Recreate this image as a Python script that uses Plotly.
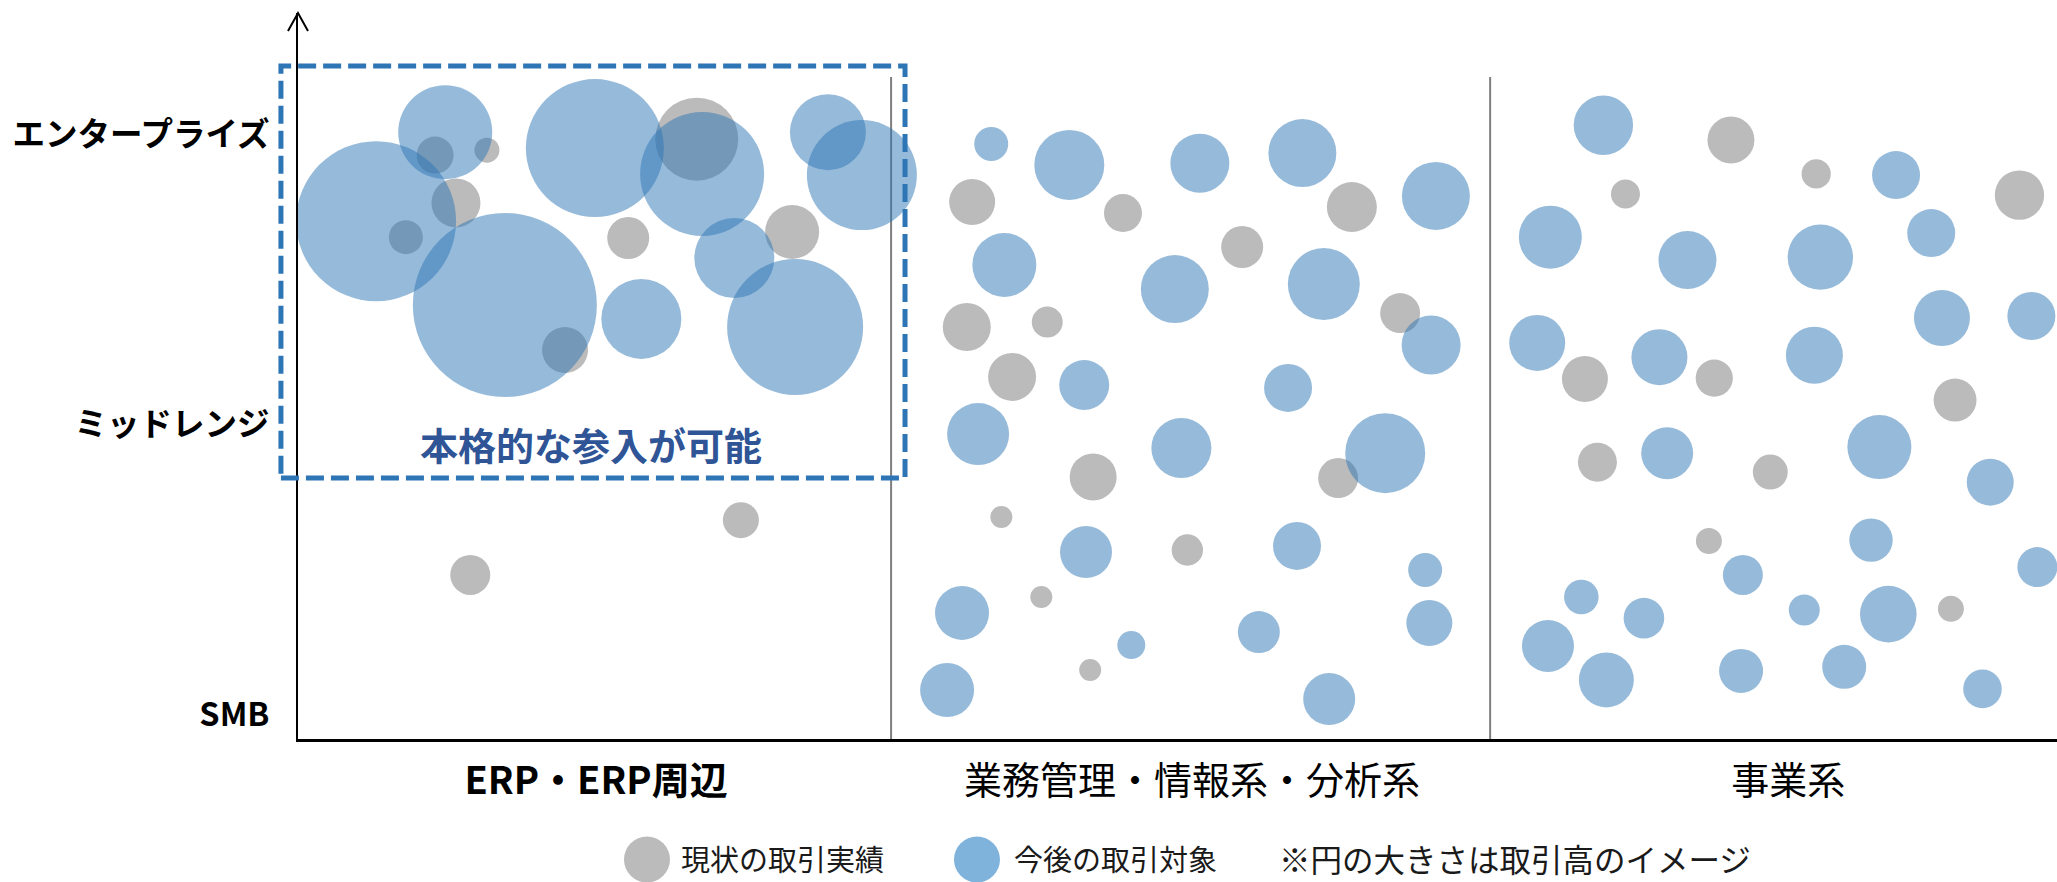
import plotly.graph_objects as go

# Horizontal position: 0-100 = ERP, 100-200 = 業務管理・情報系・分析系, 200-300 = 事業系
# Vertical position: 0 = SMB, 100 = ミッドレンジ, 200 = エンタープライズ
# Volume: relative transaction volume (bubble area)

categories = ["ERP・ERP周辺", "業務管理・情報系・分析系", "事業系"]
category_centers = [50, 150, 250]
category_bounds = [99.5, 200]
tier_labels = ["SMB", "ミッドレンジ", "エンタープライズ"]
tier_values = [0, 100, 200]

# 現状の取引実績 (current accounts)
current_x = [
    23.0, 31.7, 26.5, 18.1, 66.9, 55.4, 82.9, 44.8, 74.3, 28.9,
    113.1, 138.4, 176.8, 158.4, 112.2, 125.7, 184.9, 119.8, 133.4, 174.5,
    118.0, 149.2, 124.7, 132.9,
    240.4, 222.7, 254.7, 288.8, 215.9, 237.6, 278.0, 218.0, 247.0, 236.7, 277.3,
]
current_y = [
    193.1, 194.8, 176.6, 164.8, 198.6, 164.5, 166.6, 125.9, 67.2, 48.3,
    176.9, 173.1, 175.2, 161.4, 133.8, 135.5, 138.6, 116.6, 82.1, 81.7,
    68.3, 56.9, 40.7, 15.5,
    198.3, 179.7, 186.6, 179.3, 115.9, 116.2, 108.6, 87.2, 83.8, 60.0, 36.6,
]
current_volume = [
    3.42, 1.56, 6.00, 2.89, 17.22, 4.41, 7.29, 5.29, 3.24, 4.00,
    5.29, 3.61, 6.25, 4.41, 5.76, 2.40, 4.00, 5.76, 5.52, 4.00,
    1.21, 2.46, 1.21, 1.21,
    5.52, 2.10, 2.13, 6.10, 5.29, 3.46, 4.62, 3.80, 3.06, 1.69, 1.69,
]

# 今後の取引対象 (target accounts)
target_x = [
    13.1, 24.7, 49.8, 67.8, 88.9, 94.6, 34.7, 57.6, 73.2, 83.4,
    116.3, 129.4, 151.3, 168.5, 190.9, 118.5, 147.1, 172.1, 190.1, 131.9,
    166.1, 114.1, 148.2, 182.4, 111.4, 132.2, 167.6, 189.1, 189.8, 139.8,
    161.2, 108.9, 173.0,
    219.0, 268.1, 210.1, 233.1, 255.4, 274.0, 207.9, 228.4, 254.4, 275.8,
    290.8, 229.7, 265.3, 283.9, 263.9, 291.8, 242.4, 215.3, 225.8, 252.7,
    266.8, 209.7, 219.5, 242.1, 259.4, 282.6,
]
target_y = [
    170.3, 201.0, 195.5, 186.6, 201.0, 186.2, 141.4, 136.6, 157.6, 133.8,
    196.9, 189.7, 190.3, 193.8, 179.0, 155.2, 146.9, 148.6, 127.6, 113.8,
    112.8, 96.9, 92.1, 90.3, 35.2, 56.2, 58.3, 50.0, 31.7, 24.1,
    28.6, 8.6, 5.5,
    203.4, 186.2, 164.8, 156.9, 157.9, 166.2, 128.3, 123.4, 124.1, 136.9,
    137.6, 90.3, 92.4, 80.3, 60.3, 51.0, 48.3, 40.7, 33.4, 36.2,
    34.8, 23.8, 12.1, 15.2, 16.6, 9.0,
]
target_volume = [
    64.00, 22.09, 47.61, 38.44, 14.44, 30.25, 84.64, 16.00, 16.00, 46.24,
    2.89, 12.25, 8.70, 11.56, 11.56, 10.24, 11.56, 12.96, 8.70, 6.25,
    5.76, 9.61, 9.00, 16.00, 7.29, 6.76, 5.76, 2.89, 5.29, 1.96,
    4.41, 7.29, 6.76,
    8.82, 5.76, 9.92, 8.41, 10.69, 5.76, 7.84, 7.84, 8.12, 7.84,
    5.76, 6.76, 10.24, 5.52, 4.71, 4.00, 4.00, 2.99, 4.12, 2.40,
    8.01, 6.76, 7.56, 4.84, 4.84, 3.72,
]

legend_labels = ["現状の取引実績", "今後の取引対象", "※円の大きさは取引高のイメージ"]
focus_label = "本格的な参入が可能"

FONT = "Noto Sans CJK JP, Noto Sans, sans-serif"
GRAY = "#bbbbbb"
BLUE = "#2e75b6"
SIZEREF = 0.005

fig = go.Figure()

fig.add_trace(go.Scatter(
    x=current_x, y=current_y, mode="markers", name=legend_labels[0],
    cliponaxis=False, hoverinfo="skip", showlegend=False,
    marker=dict(size=current_volume, sizemode="area", sizeref=SIZEREF,
                color=GRAY, opacity=1, line=dict(width=0)),
))
fig.add_trace(go.Scatter(
    x=target_x, y=target_y, mode="markers", name=legend_labels[1],
    cliponaxis=False, hoverinfo="skip", showlegend=False,
    marker=dict(size=target_volume, sizemode="area", sizeref=SIZEREF,
                color=BLUE, opacity=0.5, line=dict(width=0)),
))

shapes = []
# segment dividers
for bx in category_bounds:
    shapes.append(dict(type="line", xref="x", yref="y domain", x0=bx, x1=bx,
                       y0=0, y1=0.912, layer="below",
                       line=dict(color="#7f7f7f", width=2)))
# arrow head on the vertical axis
shapes.append(dict(type="path", xref="x domain", yref="y domain",
                   xsizemode="pixel", ysizemode="pixel", xanchor=0, yanchor=1,
                   path="M -10 -18 L 0 0 L 10 -18",
                   line=dict(color="black", width=2)))
# dashed frame around the ERP enterprise / midrange zone
shapes.append(dict(type="rect", xref="x domain", yref="y domain",
                   x0=-0.0097, x1=0.3451, y0=0.3595, y1=0.927,
                   line=dict(color="#2e75b6", width=5, dash="18px,7px"),
                   fillcolor="rgba(0,0,0,0)", layer="above"))
# legend swatches
for lx, col in [(0.1984, "#bbbbbb"), (0.386, "#7fb3dc")]:
    shapes.append(dict(type="circle", xref="paper", yref="paper",
                       xsizemode="pixel", ysizemode="pixel",
                       xanchor=lx, yanchor=-0.166,
                       x0=-23, x1=23, y0=-23, y1=23,
                       fillcolor=col, line=dict(width=0)))

annotations = [
    dict(x=49.2, y=93.5, xref="x", yref="y", text=f"<b>{focus_label}</b>",
         showarrow=False, font=dict(family=FONT, size=38, color="#2f5597")),
]
for lx, txt, fs in zip([0.2166, 0.4059, 0.5566], legend_labels, [29, 29, 31.5]):
    annotations.append(dict(x=lx, y=-0.164, xref="paper", yref="paper",
                            xanchor="left", yanchor="middle", text=txt,
                            showarrow=False,
                            font=dict(family=FONT, size=fs, color="#1a1a1a")))

fig.update_layout(
    width=2057, height=882, autosize=False,
    margin=dict(l=298, r=0, t=13, b=143, pad=0),
    paper_bgcolor="white", plot_bgcolor="white",
    font=dict(family=FONT, color="black"),
    showlegend=False,
    shapes=shapes,
    annotations=annotations,
    xaxis=dict(
        range=[0, 295.1], showgrid=False, zeroline=False,
        showline=True, linecolor="black", linewidth=3,
        tickmode="array", tickvals=category_centers,
        ticktext=["<b>" + categories[0] + "</b>", categories[1], categories[2]],
        ticks="", ticklabelstandoff=6,
        tickfont=dict(family=FONT, size=38, color="black"),
    ),
    yaxis=dict(
        range=[-8.28, 242.1], showgrid=False, zeroline=False,
        showline=True, linecolor="black", linewidth=2,
        tickmode="array", tickvals=tier_values,
        ticktext=["<b>" + t + "</b>" for t in tier_labels],
        ticks="", ticklabelstandoff=20,
        tickfont=dict(family=FONT, size=32.5, color="black"),
    ),
)

fig.write_html("out.html")
